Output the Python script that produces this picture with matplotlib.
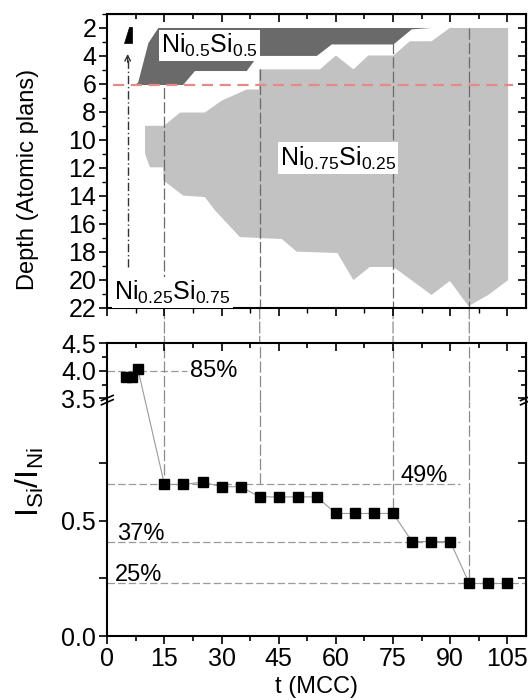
import numpy as np
import matplotlib
matplotlib.use('Agg')
import matplotlib.pyplot as plt
from matplotlib.patches import ConnectionPatch
from matplotlib.ticker import MultipleLocator, FixedLocator, FixedFormatter

plt.rcParams['font.family'] = ['Liberation Sans', 'DejaVu Sans']
plt.rcParams['mathtext.fontset'] = 'custom'
plt.rcParams['mathtext.rm'] = 'Liberation Sans'
plt.rcParams['mathtext.it'] = 'Liberation Sans:italic'
plt.rcParams['mathtext.bf'] = 'Liberation Sans:bold'

# --- lower panel: Si/Ni intensity ratio vs time ---
t_early = [5, 6.5, 8]
ratio_early = [3.89, 3.89, 4.04]

t_mcc = [15, 20, 25, 30, 35, 40, 45, 50, 55, 60, 65, 70, 75, 80, 85, 90, 95, 100, 105]
ratio = [0.658, 0.658, 0.668, 0.648, 0.648, 0.604, 0.604, 0.604, 0.604,
         0.532, 0.532, 0.532, 0.532, 0.410, 0.410, 0.410, 0.228, 0.228, 0.228]

# reference levels (dashed horizontal lines) and their labels
ref_levels = [4.0, 0.658, 0.408, 0.228]
ref_labels = ['85%', '49%', '37%', '25%']
ref_end = [20.8, 92.5, 92.5, 110]
ref_label_t = [21.7, 77.0, 2.5, 2.1]
ref_label_y = [4.0, 0.668, 0.418, 0.238]

# vertical guides: time, depth where they start (top), ratio where they end (bottom)
guide_t = [15, 40, 75, 95]
guide_depth = [5.2, 4.96, 2.0, 2.0]
guide_ratio = [0.70, 0.658, 0.55, 0.245]

# --- top panel: phase regions as (t, depth) outlines ---
ni50_t = [13.4, 10.8, 8.1, 7.3, 19.9, 23.0, 36.6, 39.5, 55.0, 58.9, 75.1, 79.9, 85.1]
ni50_depth = [2.0, 3.07, 5.9, 6.08, 6.08, 5.08, 5.08, 4.0, 4.0, 3.18, 3.18, 2.1, 2.0]

ni75_t = [39.8, 39.8, 55.8, 60.0, 64.6, 68.5, 75.1, 79.4, 85.1, 89.9, 105.2,
          105.2, 100.0, 94.8, 89.9, 85.1, 75.1, 68.9, 64.6, 60.4, 49.7, 45.8,
          34.8, 28.3, 25.6, 19.9, 14.7, 14.7, 11.2, 9.9, 9.9, 14.9, 19.1,
          25.6, 30.0, 36.6]
ni75_depth = [6.4, 4.96, 4.96, 3.97, 4.96, 3.97, 3.97, 2.95, 2.95, 2.0, 2.0,
              20.04, 21.1, 21.9, 20.1, 21.1, 19.1, 19.1, 20.04, 18.1, 18.0, 17.1,
              16.96, 15.06, 14.1, 13.99, 12.9, 11.97, 11.97, 11.0, 9.0, 9.0, 8.05,
              8.05, 7.2, 6.4]

seed_t = [5.6, 6.5, 6.5, 4.5]
seed_depth = [1.95, 1.95, 3.05, 3.05]

arrow_t = 5.35
arrow_depth = [19.1, 3.66]

red_t = [1.6, 106.6]
red_depth = 6.1

fig = plt.figure(figsize=(5.28, 7.0), dpi=100)
ax_top = fig.add_axes([0.2032, 0.5607, 0.7938, 0.4193])
ax_brk = fig.add_axes([0.2032, 0.4271, 0.7938, 0.0824], facecolor='none')
ax_low = fig.add_axes([0.2032, 0.0914, 0.7938, 0.3357], facecolor='none')

tick_kw = dict(labelsize=18, width=1.2, pad=2)

# top panel
ax_top.fill(ni75_t, ni75_depth, color='#c2c2c2', lw=0, zorder=1)
ax_top.fill(ni50_t, ni50_depth, color='#6a6a6a', lw=0, zorder=1)
ax_top.fill(seed_t, seed_depth, color='k', lw=0.5, zorder=1)
ax_top.plot(red_t, [red_depth, red_depth], color='#e38a8a', ls=(0, (5, 3)), lw=1.6, zorder=3)
for t, d in zip(guide_t, guide_depth):
    ax_top.plot([t, t], [d, 22], color='#6a6a6a', ls=(0, (9, 2.5)), lw=0.9, zorder=2)
ax_top.plot([arrow_t, arrow_t], [arrow_depth[0], arrow_depth[1] + 0.6], color='#333333',
            ls=(0, (6, 2, 1, 2)), lw=1, zorder=2)
ax_top.annotate('', xy=(arrow_t, arrow_depth[1]), xytext=(arrow_t, arrow_depth[1] + 1.0),
                arrowprops=dict(arrowstyle='->', color='#333333', lw=1, mutation_scale=10))

box = dict(facecolor='white', edgecolor='none', pad=1.5)
ax_top.text(14.0, 3.25, r'Ni$_{0.5}$Si$_{0.5}$', fontsize=18, ha='left', va='center', bbox=box, zorder=4)
ax_top.text(60.6, 11.3, r'Ni$_{0.75}$Si$_{0.25}$', fontsize=18, ha='center', va='center', bbox=box, zorder=4)
ax_top.text(17.1, 20.9, r'Ni$_{0.25}$Si$_{0.75}$', fontsize=18, ha='center', va='center', bbox=box, zorder=4)

ax_top.set_xlim(0, 110)
ax_top.set_ylim(22, 1)
ax_top.xaxis.set_major_locator(MultipleLocator(15))
ax_top.xaxis.set_minor_locator(MultipleLocator(7.5))
ax_top.yaxis.set_major_locator(MultipleLocator(2))
ax_top.yaxis.set_minor_locator(MultipleLocator(1))
ax_top.tick_params(which='both', direction='out', labelbottom=False, **tick_kw)
ax_top.tick_params(which='major', length=6)
ax_top.tick_params(which='minor', length=3.5, width=1)
ax_top.set_ylabel('Depth (Atomic plans)', fontsize=17)
ax_top.yaxis.set_label_coords(-0.163, 0.438)

sx = ax_top.secondary_xaxis('top')
sx.xaxis.set_major_locator(MultipleLocator(15))
sx.xaxis.set_minor_locator(MultipleLocator(7.5))
sx.tick_params(which='both', direction='in', labeltop=False, width=1.2)
sx.tick_params(which='major', length=6)
sx.tick_params(which='minor', length=3.5)
sy = ax_top.secondary_yaxis('right')
sy.yaxis.set_major_locator(MultipleLocator(2))
sy.yaxis.set_minor_locator(MultipleLocator(1))
sy.tick_params(which='both', direction='in', labelright=False, width=1.2)
sy.tick_params(which='major', length=6)
sy.tick_params(which='minor', length=3.5)

# lower panel, broken y axis
for ax in (ax_brk, ax_low):
    ax.set_xlim(0, 110)
for v, e in zip(ref_levels, ref_end):
    target = ax_brk if v > 1 else ax_low
    target.plot([0, e], [v, v], color='#9a9a9a', ls=(0, (6, 2.5)), lw=0.9, zorder=1)
for name, x, y in zip(ref_labels, ref_label_t, ref_label_y):
    if y > 1:
        ax_brk.text(x, y, name, fontsize=17, ha='left', va='center')
    else:
        ax_low.text(x, y, name, fontsize=17, ha='left', va='baseline')

ax_brk.plot(t_early, ratio_early, color='#9a9a9a', lw=0.8, marker='s', ms=7.8,
            mfc='k', mec='k', zorder=3, clip_on=False)
ax_low.plot(t_mcc, ratio, color='#9a9a9a', lw=0.8, marker='s', ms=7.8,
            mfc='k', mec='k', zorder=3, clip_on=False)
for t, r in zip(guide_t, guide_ratio):
    ax_low.plot([t, t], [r, 1.02], color='#8c8c8c', ls=(0, (9, 2.5)), lw=0.9, zorder=1)
    ax_brk.plot([t, t], [3.45, 4.5], color='#8c8c8c', ls=(0, (9, 2.5)), lw=0.9, zorder=1)

ax_brk.set_ylim(3.45, 4.5)
ax_low.set_ylim(0, 1.02)
ax_brk.spines['bottom'].set_visible(False)
ax_low.spines['top'].set_visible(False)

ax_brk.yaxis.set_major_locator(FixedLocator([3.5, 4.0, 4.5]))
ax_brk.yaxis.set_major_formatter(FixedFormatter(['3.5', '4.0', '4.5']))
ax_brk.yaxis.set_minor_locator(FixedLocator([3.75, 4.25]))
ax_brk.xaxis.set_major_locator(MultipleLocator(15))
ax_brk.xaxis.set_minor_locator(MultipleLocator(7.5))
ax_brk.tick_params(axis='y', which='both', direction='out', **tick_kw)
ax_brk.tick_params(axis='x', which='both', direction='in', bottom=False, top=True,
                   labelbottom=False, width=1.2)
ax_brk.tick_params(which='major', length=6)
ax_brk.tick_params(which='minor', length=3.5)

ax_low.yaxis.set_major_locator(FixedLocator([0, 0.25, 0.5, 0.75]))
ax_low.yaxis.set_major_formatter(FixedFormatter(['0.0', '', '0.5', '']))
ax_low.xaxis.set_major_locator(MultipleLocator(15))
ax_low.xaxis.set_minor_locator(MultipleLocator(7.5))
ax_low.tick_params(which='both', direction='out', **tick_kw)
ax_low.tick_params(which='major', length=6)
ax_low.tick_params(which='minor', length=3.5)

for ax in (ax_brk, ax_low):
    ry = ax.secondary_yaxis('right')
    ry.yaxis.set_major_locator(ax.yaxis.get_major_locator())
    ry.tick_params(which='both', direction='in', labelright=False, length=6, width=1.2)
    if ax is ax_brk:
        ry.yaxis.set_minor_locator(FixedLocator([3.75, 4.25]))
        ry.tick_params(which='minor', length=3.5)

for ax in (ax_top, ax_brk, ax_low):
    for s in ax.spines.values():
        s.set_linewidth(1.5)

ax_low.set_xlabel('t (MCC)', fontsize=17)
ax_low.xaxis.set_label_coords(0.5, -0.17)
fig.text(30 / 528, 1 - 482 / 700, r'I$_{\mathrm{Si}}$/I$_{\mathrm{Ni}}$', fontsize=23,
         rotation=90, ha='center', va='center')

# break marks on the left and right spines
for xa in (0, 1):
    for dy in (0, 0.018):
        ax_low.plot([xa - 0.014, xa + 0.014], [0.984 + dy, 1.006 + dy], color='k', lw=1.2,
                    transform=ax_low.transAxes, clip_on=False, zorder=5)

# connecting segment across the break and guides across the gap
fig.add_artist(ConnectionPatch(xyA=(t_early[-1], ratio_early[-1]), coordsA=ax_brk.transData,
                               xyB=(t_mcc[0], ratio[0]), coordsB=ax_low.transData,
                               color='#9a9a9a', lw=0.8, zorder=-1))
for t in guide_t:
    fig.add_artist(ConnectionPatch(xyA=(t, 22), coordsA=ax_top.transData,
                                   xyB=(t, 4.5), coordsB=ax_brk.transData,
                                   color='#8c8c8c', ls=(0, (9, 2.5)), lw=0.9, zorder=-1))

fig.savefig('out.png', dpi=100, facecolor='white')
